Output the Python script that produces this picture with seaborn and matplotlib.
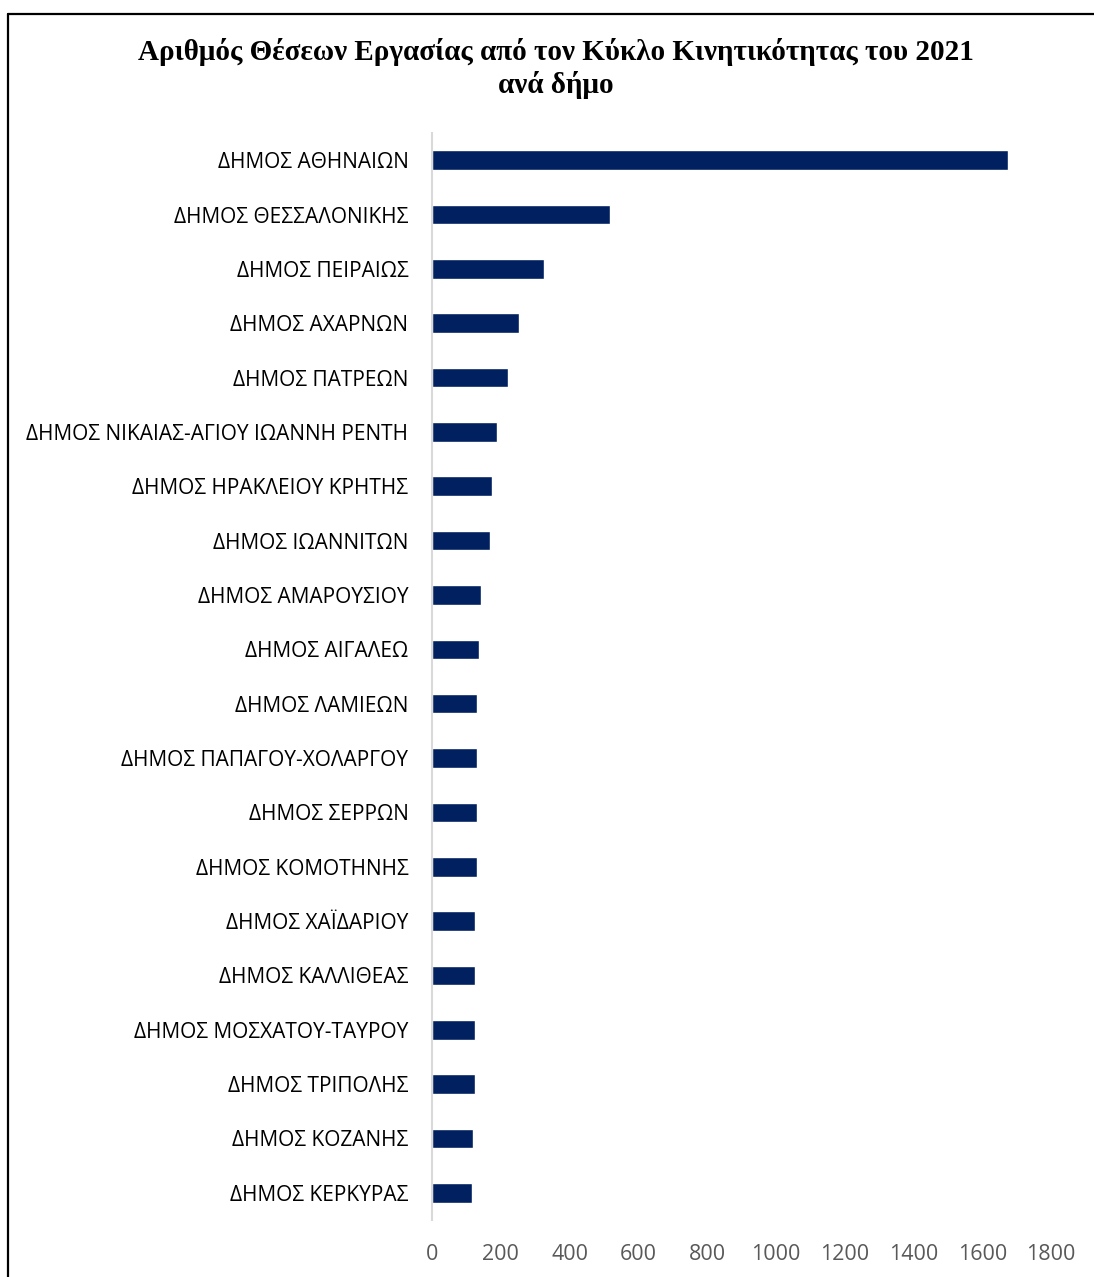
import matplotlib
matplotlib.use("Agg")
import matplotlib.pyplot as plt
from matplotlib.lines import Line2D
import seaborn as sns
import pandas as pd

municipalities = [
    "ΔΗΜΟΣ ΑΘΗΝΑΙΩΝ",
    "ΔΗΜΟΣ ΘΕΣΣΑΛΟΝΙΚΗΣ",
    "ΔΗΜΟΣ ΠΕΙΡΑΙΩΣ",
    "ΔΗΜΟΣ ΑΧΑΡΝΩΝ",
    "ΔΗΜΟΣ ΠΑΤΡΕΩΝ",
    "ΔΗΜΟΣ ΝΙΚΑΙΑΣ-ΑΓΙΟΥ ΙΩΑΝΝΗ ΡΕΝΤΗ",
    "ΔΗΜΟΣ ΗΡΑΚΛΕΙΟΥ ΚΡΗΤΗΣ",
    "ΔΗΜΟΣ ΙΩΑΝΝΙΤΩΝ",
    "ΔΗΜΟΣ ΑΜΑΡΟΥΣΙΟΥ",
    "ΔΗΜΟΣ ΑΙΓΑΛΕΩ",
    "ΔΗΜΟΣ ΛΑΜΙΕΩΝ",
    "ΔΗΜΟΣ ΠΑΠΑΓΟΥ-ΧΟΛΑΡΓΟΥ",
    "ΔΗΜΟΣ ΣΕΡΡΩΝ",
    "ΔΗΜΟΣ ΚΟΜΟΤΗΝΗΣ",
    "ΔΗΜΟΣ ΧΑΪΔΑΡΙΟΥ",
    "ΔΗΜΟΣ ΚΑΛΛΙΘΕΑΣ",
    "ΔΗΜΟΣ ΜΟΣΧΑΤΟΥ-ΤΑΥΡΟΥ",
    "ΔΗΜΟΣ ΤΡΙΠΟΛΗΣ",
    "ΔΗΜΟΣ ΚΟΖΑΝΗΣ",
    "ΔΗΜΟΣ ΚΕΡΚΥΡΑΣ",
]
positions = [1676, 517, 326, 252, 220, 190, 174, 168, 143, 136,
             132, 131, 131, 130, 126, 126, 125, 124, 118, 115]
x_ticks = [0, 200, 400, 600, 800, 1000, 1200, 1400, 1600, 1800]

df = pd.DataFrame({"municipality": municipalities, "jobs": positions})

sns.set_theme(style="white")
plt.rcParams["font.family"] = ["Open Sans", "DejaVu Sans"]

W, H = 1094, 1277
fig = plt.figure(figsize=(W / 100, H / 100), dpi=100)
ax = fig.add_axes([432 / W, 1 - 1220 / H, (1051 - 432) / W, (1220 - 133) / H])

sns.barplot(data=df, y="municipality", x="jobs", orient="h",
            color="#002060", width=0.36, ax=ax, saturation=1)

ax.set_xlim(0, 1800)
ax.set_ylim(len(municipalities) - 0.5, -0.5)
ax.set_xticks(x_ticks)
ax.set_xticklabels([str(t) for t in x_ticks], color="#595959", fontsize=15.5)
ax.tick_params(axis="y", labelsize=15, labelcolor="black", length=0, pad=17)
ax.tick_params(axis="x", length=0, pad=17)
ax.set_xlabel("")
ax.set_ylabel("")

for side in ["top", "right", "bottom"]:
    ax.spines[side].set_visible(False)
ax.spines["left"].set_color("#d9d9d9")
ax.spines["left"].set_linewidth(1.5)

title_kw = dict(ha="center", va="center", fontsize=21, fontweight="bold",
                family=["Liberation Serif", "DejaVu Serif"], color="black")
fig.text(556 / W, 1 - 52 / H,
         "Αριθμός Θέσεων Εργασίας από τον Κύκλο Κινητικότητας του 2021", **title_kw)
fig.text(556 / W, 1 - 85 / H, "ανά δήμο", **title_kw)

# outer frame: top and left edges
fig.add_artist(Line2D([8 / W, 1.0], [1 - 14 / H, 1 - 14 / H],
                      transform=fig.transFigure, color="black", lw=1.6))
fig.add_artist(Line2D([8 / W, 8 / W], [1 - 14 / H, 0.0],
                      transform=fig.transFigure, color="black", lw=1.6))

fig.savefig("out.png", dpi=100, facecolor="white")
